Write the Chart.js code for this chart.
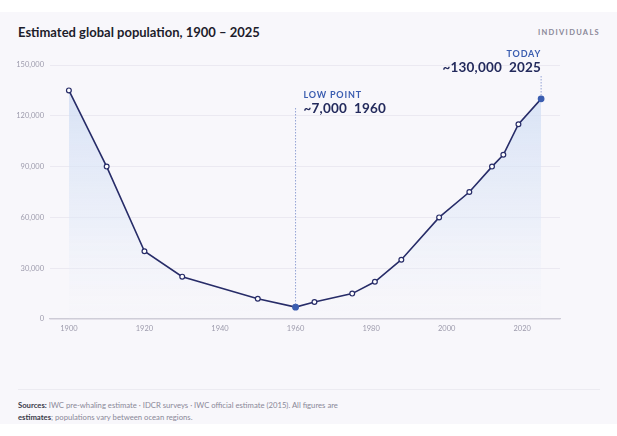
<!DOCTYPE html>
<html>
<head>
<meta charset="utf-8">
<script src="https://cdn.jsdelivr.net/npm/chart.js@4.4.1/dist/chart.umd.min.js"></script>
<style>
  html, body { margin: 0; padding: 0; background: #ffffff; }
  body { width: 617px; height: 436px; position: relative; overflow: hidden; font-family: Lato, "Noto Sans", sans-serif; }
  .card { position: absolute; left: 0; top: 12px; width: 617px; height: 412px; background: #f8f7fb; }
  .title { position: absolute; left: 18px; top: 24px; font-size: 13px; font-weight: 700; color: #1d1d2b; }
  .unit { position: absolute; right: 17px; top: 28px; font-size: 7.5px; font-weight: 700; letter-spacing: 1.3px; color: #8a8898; }
  .chart-wrap { position: absolute; left: 0; top: 40px; width: 617px; height: 300px; }
  .rule { position: absolute; left: 18px; top: 389px; width: 582px; height: 1px; background: #ecebf1; }
  .foot { position: absolute; left: 18px; top: 399px; font-size: 7.7px; line-height: 12px; color: #8a8898; -webkit-font-smoothing: antialiased; }
  .foot b { color: #3a3a4a; }
</style>
</head>
<body>
<div class="card"></div>
<div class="title">Estimated global population, 1900 – 2025</div>
<div class="unit">INDIVIDUALS</div>
<div class="chart-wrap"><canvas id="popChart"></canvas></div>
<div class="rule"></div>
<div class="foot"><b>Sources:</b> IWC pre-whaling estimate · IDCR surveys · IWC official estimate (2015). All figures are<br><b>estimates</b>; populations vary between ocean regions.</div>

<script>
// data
const years = [1900, 1910, 1920, 1930, 1950, 1960, 1965, 1975, 1981, 1988, 1998, 2006, 2012, 2015, 2019, 2025];
const population = [135000, 90000, 40000, 25000, 12000, 7000, 10000, 15000, 22000, 35000, 60000, 75000, 90000, 97000, 115000, 130000];
const yTicks = [0, 30000, 60000, 90000, 120000, 150000];
const highlights = [
    { year: 1960, value: 7000, label: 'LOW POINT', text: '~7,000  1960', align: 'left' },
    { year: 2025, value: 130000, label: 'TODAY', text: '~130,000  2025', align: 'right' }
];

const NAVY = '#272c68';
const ACCENT = '#3b5db0';

const highlightYears = highlights.map(h => h.year);
const isHighlight = (ctx) => highlightYears.includes(years[ctx.dataIndex]);

function areaGradient(context) {
    const area = context.chart.chartArea;
    if (!area) return 'rgba(210,222,243,0.6)';
    const g = context.chart.ctx.createLinearGradient(0, area.top, 0, area.bottom);
    g.addColorStop(0, 'rgba(205,219,243,0.85)');
    g.addColorStop(0.6, 'rgba(222,231,247,0.5)');
    g.addColorStop(1, 'rgba(240,243,251,0.05)');
    return g;
}

// dotted leader lines and callout text for the highlighted points
const calloutPlugin = {
    id: 'callouts',
    afterDatasetsDraw(chart) {
        const ctx = chart.ctx;
        const xs = chart.scales.x;
        const ys = chart.scales.y;
        highlights.forEach(h => {
            const px = xs.getPixelForValue(h.year);
            const py = ys.getPixelForValue(h.value);
            const isLeft = h.align === 'left';
            const labelY = isLeft ? ys.top + 33 : ys.top - 8;
            const textY = labelY + 15;
            const lineTop = isLeft ? textY - 5 : textY + 4;

            ctx.save();
            ctx.strokeStyle = '#93a3d4';
            ctx.lineWidth = 1;
            ctx.setLineDash([1.5, 1.5]);
            ctx.beginPath();
            ctx.moveTo(px, lineTop);
            ctx.lineTo(px, py - 3);
            ctx.stroke();
            ctx.setLineDash([]);

            const tx = isLeft ? px + 8 : px;
            ctx.textAlign = isLeft ? 'left' : 'right';
            ctx.textBaseline = 'alphabetic';
            ctx.fillStyle = ACCENT;
            ctx.font = '700 9px Lato, sans-serif';
            if (ctx.letterSpacing !== undefined) ctx.letterSpacing = '0.8px';
            ctx.fillText(h.label, tx, labelY);
            if (ctx.letterSpacing !== undefined) ctx.letterSpacing = '0.2px';
            ctx.fillStyle = '#232a5c';
            ctx.font = '700 13.5px Lato, sans-serif';
            ctx.fillText(h.text, tx, textY);
            ctx.restore();
        });
    }
};

new Chart(document.getElementById('popChart'), {
    type: 'line',
    data: {
        datasets: [{
            data: years.map((y, i) => ({ x: y, y: population[i] })),
            borderColor: NAVY,
            borderWidth: 1.6,
            tension: 0,
            fill: 'origin',
            backgroundColor: areaGradient,
            pointRadius: ctx => isHighlight(ctx) ? 2.8 : 2.4,
            pointBackgroundColor: ctx => isHighlight(ctx) ? ACCENT : '#ffffff',
            pointBorderColor: ctx => isHighlight(ctx) ? ACCENT : NAVY,
            pointBorderWidth: 1.2
        }]
    },
    options: {
        responsive: true,
        maintainAspectRatio: false,
        animation: false,
        layout: { padding: { top: 25, right: 57, bottom: 0, left: 0 } },
        plugins: { legend: { display: false }, tooltip: { enabled: false } },
        scales: {
            x: {
                type: 'linear',
                min: 1895,
                max: 2030,
                afterFit(scale) { scale.height = 21; },
                grid: { display: false, drawTicks: false },
                border: { color: '#cdcbd6', width: 1.3 },
                ticks: {
                    stepSize: 20,
                    includeBounds: false,
                    padding: 5,
                    color: '#9d9bac',
                    font: { family: 'Lato', size: 7.5 },
                    callback: v => String(v)
                }
            },
            y: {
                min: 0,
                max: 150000,
                afterFit(scale) { scale.width = 50; },
                afterBuildTicks(scale) { scale.ticks = yTicks.map(v => ({ value: v })); },
                grid: { color: '#ebe9f1', lineWidth: 1, drawTicks: false },
                border: { display: false },
                ticks: {
                    padding: 6,
                    color: '#9d9bac',
                    font: { family: 'Lato', size: 7.5 },
                    callback: v => v.toLocaleString('en-US')
                }
            }
        }
    },
    plugins: [calloutPlugin]
});
</script>
</body>
</html>
